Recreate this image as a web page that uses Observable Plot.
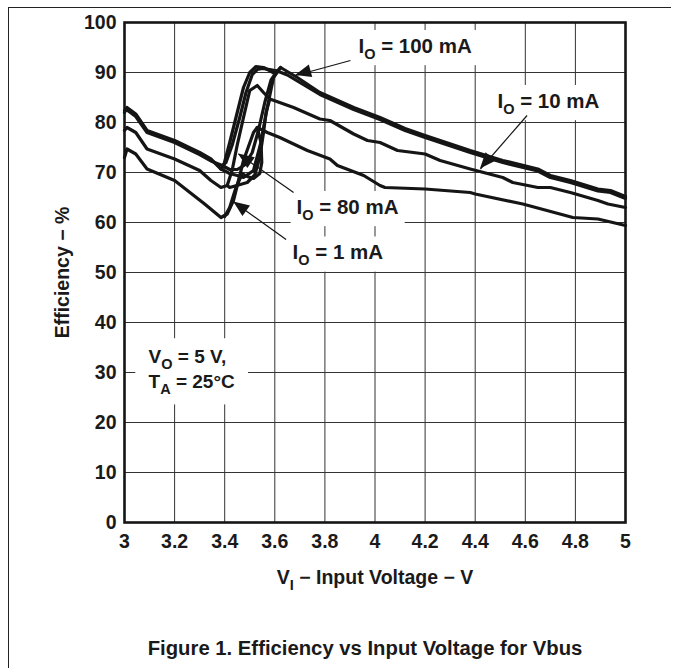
<!DOCTYPE html>
<html>
<head>
<meta charset="utf-8">
<script src="https://cdn.jsdelivr.net/npm/d3@7"></script>
<script src="https://cdn.jsdelivr.net/npm/@observablehq/plot@0.6"></script>
<style>
  html, body { margin: 0; padding: 0; background: #fff; }
  #page { position: relative; width: 673px; height: 668px; overflow: hidden; background: #fff; }
  #chart { position: absolute; left: 0; top: 0; }
  #border { position: absolute; left: 8px; top: 7px; width: 662px; height: 670px;
            border-top: 1.5px solid #222; border-left: 1.5px solid #222; }
  #title { position: absolute; left: 0; top: 638px; width: 673px; box-sizing: border-box; padding-left: 57px;
           text-align: center; font: bold 20.3px/20px "Liberation Sans", Arial, sans-serif; color: #1a1a1a; }
</style>
</head>
<body>
<div id="page">
  <div id="chart"></div>
  <div id="border"></div>
  <div id="title">Figure 1. Efficiency vs Input Voltage for Vbus</div>
</div>
<script>
// ---- Data ----
const xTicks = [3, 3.2, 3.4, 3.6, 3.8, 4, 4.2, 4.4, 4.6, 4.8, 5];
const yTicks = [0, 10, 20, 30, 40, 50, 60, 70, 80, 90, 100];

// IO = 100 mA : rising sweep and return branch of the loop
const v100 = [3.0, 3.01, 3.045, 3.09, 3.2, 3.3, 3.345, 3.385, 3.42, 3.45, 3.475, 3.515, 3.543, 3.57, 3.595, 3.623, 3.69, 3.78, 3.915, 4.02, 4.12, 4.2, 4.38, 4.51, 4.65, 4.70, 4.78, 4.89, 4.94, 5.0];
const e100 = [82, 83, 81.7, 78.4, 76.4, 74, 72.7, 70.7, 69.8, 69.4, 69, 70.4, 75.7, 83, 89, 91, 89, 86, 83, 81, 78.8, 77.4, 74.4, 72.4, 70.7, 69.4, 68.4, 66.7, 66.4, 65.2];
const v100r = [3.623, 3.60, 3.575, 3.555, 3.525, 3.50, 3.475, 3.45, 3.42, 3.395, 3.385];
const e100r = [91, 89.8, 90.5, 91, 91.2, 90, 87, 82, 76, 71.2, 70.7];

// IO = 80 mA
const v80 = [3.0, 3.01, 3.045, 3.09, 3.2, 3.3, 3.35, 3.39, 3.42, 3.45, 3.48, 3.51, 3.535, 3.56, 3.585, 3.61, 3.65, 3.7, 3.78, 3.915, 4.02, 4.12, 4.2, 4.38, 4.51, 4.65, 4.70, 4.78, 4.89, 4.94, 5.0];
const e80 = [82.4, 82.5, 81.2, 78, 76, 73.6, 72.2, 71.4, 70.6, 70.6, 71.5, 74, 78.5, 84, 88.5, 90.3, 89.5, 88, 85.6, 82.6, 80.6, 78.4, 77, 74, 72, 70.3, 69, 68, 66.3, 66, 64.8];
const v80r = [3.61, 3.58, 3.55, 3.53, 3.51, 3.485, 3.46, 3.43, 3.405, 3.39];
const e80r = [90.3, 90.6, 90.8, 90.6, 89.6, 86, 81, 75.5, 72, 71.4];

// IO = 10 mA
const v10 = [3.0, 3.01, 3.045, 3.09, 3.2, 3.3, 3.345, 3.385, 3.41, 3.43, 3.45, 3.475, 3.50, 3.53, 3.555, 3.58, 3.675, 3.78, 3.82, 3.915, 3.97, 4.02, 4.09, 4.2, 4.26, 4.38, 4.51, 4.55, 4.65, 4.70, 4.78, 4.89, 4.93, 5.0];
const e10 = [78.4, 79, 78, 74.7, 72.7, 70.4, 68.4, 67, 67.4, 70.5, 75.5, 81, 86.4, 87.4, 86, 84.7, 83, 80.7, 80.4, 77.7, 76.4, 76, 74.4, 73.7, 72.4, 70.7, 69, 68, 67, 67, 66, 64.4, 63.7, 63];
const v10r = [3.58, 3.565, 3.555, 3.54, 3.52, 3.49, 3.455, 3.42, 3.41];
const e10r = [84.7, 82, 78, 73, 69.5, 68, 67.5, 67, 67.4];

// IO = 1 mA
const v1 = [3.0, 3.01, 3.045, 3.09, 3.2, 3.32, 3.385, 3.41, 3.435, 3.475, 3.515, 3.53, 3.57, 3.62, 3.73, 3.82, 3.85, 3.955, 4.02, 4.04, 4.2, 4.38, 4.4, 4.59, 4.79, 4.89, 5.0];
const e1 = [73, 74.7, 73.7, 70.7, 68.4, 63.7, 61, 61.7, 64.4, 72.4, 78, 79, 78, 77, 74.4, 72.7, 71.4, 69.4, 67.4, 67, 66.7, 66, 65.7, 63.7, 61, 60.7, 59.4];
const v1r = [3.53, 3.545, 3.548, 3.54, 3.515, 3.49, 3.47, 3.445, 3.42, 3.40];
const e1r = [79, 76, 72, 69.8, 68.8, 69.2, 69.8, 67, 63, 61.2];

// Annotations
const labelText = ["I_O = 100 mA", "I_O = 10 mA", "I_O = 80 mA", "I_O = 1 mA", "V_O = 5 V,", "T_A = 25°C"];
const labelV = [3.934, 4.489, 3.687, 3.671, 3.096, 3.096];
const labelE = [95.3, 84.3, 63.1, 54, 33.1, 28.2];
const labelSize = [20.5, 20.5, 20.5, 20.5, 19, 19];
const labelPad = [6, 6, 6, 6, 13, 13];

const arrowFromV = [3.902, 4.607, 3.675, 3.645];
const arrowFromE = [92.4, 81.4, 66.0, 56.6];
const arrowToV = [3.683, 4.421, 3.455, 3.436];
const arrowToE = [89.4, 70.7, 73.7, 64.1];

// ---- Build tables ----
const curves = [
  ["100 mA up", v100, e100], ["100 mA down", v100r, e100r],
  ["80 mA up", v80, e80], ["80 mA down", v80r, e80r],
  ["10 mA up", v10, e10], ["10 mA down", v10r, e10r],
  ["1 mA up", v1, e1], ["1 mA down", v1r, e1r]
];
const rows = curves.flatMap(([s, vs, es]) => vs.map((v, i) => ({series: s, v, e: es[i]})));
const labels = labelText.map((t, i) => ({text: t, v: labelV[i], e: labelE[i], size: labelSize[i], pad: labelPad[i]}));
const arrows = arrowFromV.map((_, i) => ({x1: arrowFromV[i], y1: arrowFromE[i], x2: arrowToV[i], y2: arrowToE[i]}));

const ink = "#151515";

function arrowHeads(data) {
  return (index, scales) => {
    const g = d3.create("svg:g");
    for (const d of data) {
      const x1 = scales.x(d.x1), y1 = scales.y(d.y1), x2 = scales.x(d.x2), y2 = scales.y(d.y2);
      const a = Math.atan2(y2 - y1, x2 - x1);
      const L = 16, W = 6.5;
      const bx = x2 - L * Math.cos(a), by = y2 - L * Math.sin(a);
      const px = -Math.sin(a) * W, py = Math.cos(a) * W;
      g.append("path")
        .attr("d", `M${x2},${y2}L${bx + px},${by + py}L${bx - px},${by - py}Z`)
        .attr("fill", ink);
    }
    return g.node();
  };
}

const chart = Plot.plot({
  width: 673,
  height: 600,
  marginLeft: 124,
  marginRight: 48,
  marginTop: 22,
  marginBottom: 78,
  x: {domain: [3, 5]},
  y: {domain: [0, 100]},
  style: {fontFamily: "'Liberation Sans', Arial, sans-serif", fontSize: "19.5px", fontWeight: "bold", color: "#1a1a1a", background: "transparent", overflow: "visible"},
  marks: [
    Plot.gridX(xTicks, {stroke: "#333", strokeOpacity: 1, strokeWidth: 1}),
    Plot.gridY(yTicks, {stroke: "#333", strokeOpacity: 1, strokeWidth: 1}),
    Plot.line(rows, {x: "v", y: "e", z: "series", stroke: ink, strokeWidth: 3.2, strokeLinejoin: "round", strokeLinecap: "round"}),
    Plot.frame({stroke: ink, strokeWidth: 2.6}),
    Plot.axisX(xTicks, {tickSize: 0, tickPadding: 12, tickFormat: d => String(d), label: "V_I − Input Voltage − V", labelAnchor: "center", labelOffset: 61, labelArrow: "none"}),
    Plot.axisY(yTicks, {tickSize: 0, tickPadding: 8, tickFormat: d => String(d), label: "Efficiency − %", labelAnchor: "center", labelOffset: 69, labelArrow: "none"}),
    Plot.text(labels, {x: "v", y: "e", text: "text", textAnchor: "start", fill: "#1a1a1a", fontSize: "size", fontWeight: "bold"}),
    Plot.link(arrows, {x1: "x1", y1: "y1", x2: "x2", y2: "y2", stroke: ink, strokeWidth: 1.2}),
    arrowHeads(arrows)
  ]
});
document.getElementById("chart").appendChild(chart);

// Subscripts: "X_Y rest" -> X, subscript Y, rest
const svg = d3.select(chart);
svg.selectAll("text").each(function () {
  const el = this;
  if (el.querySelector("tspan")) return;
  const s = el.textContent;
  if (!s.includes("_")) return;
  const parts = s.split(/_(\S)/);
  el.textContent = "";
  parts.forEach((p, i) => {
    const t = document.createElementNS("http://www.w3.org/2000/svg", "tspan");
    t.textContent = p;
    if (i % 2 === 1) { t.setAttribute("font-size", "14.5"); t.setAttribute("dy", "6"); }
    else if (i > 0) { t.setAttribute("dy", "-6"); }
    el.appendChild(t);
  });
});

// White boxes behind the annotation texts (in svg coordinates)
const labelSet = new Map(labels.map(d => [d.text.replace("_", ""), d.pad]));
const boxLayer = document.createElementNS("http://www.w3.org/2000/svg", "g");
let firstTextGroup = null;
const svgCTMInv = chart.getScreenCTM().inverse();
svg.selectAll("text").each(function () {
  const key = this.textContent;
  if (!labelSet.has(key)) return;
  const pad = labelSet.get(key);
  const b = this.getBBox();
  const m = svgCTMInv.multiply(this.getScreenCTM());
  const pts = [[b.x, b.y], [b.x + b.width, b.y + b.height]].map(([x, y]) => {
    const p = chart.createSVGPoint(); p.x = x; p.y = y; return p.matrixTransform(m);
  });
  const r = document.createElementNS("http://www.w3.org/2000/svg", "rect");
  r.setAttribute("x", pts[0].x - pad);
  r.setAttribute("y", pts[0].y - pad * 0.6);
  r.setAttribute("width", pts[1].x - pts[0].x + 2 * pad);
  r.setAttribute("height", pts[1].y - pts[0].y + pad * 1.2);
  r.setAttribute("fill", "white");
  boxLayer.appendChild(r);
  if (!firstTextGroup) firstTextGroup = this.parentNode;
});
if (firstTextGroup) firstTextGroup.parentNode.insertBefore(boxLayer, firstTextGroup);
</script>
</body>
</html>
